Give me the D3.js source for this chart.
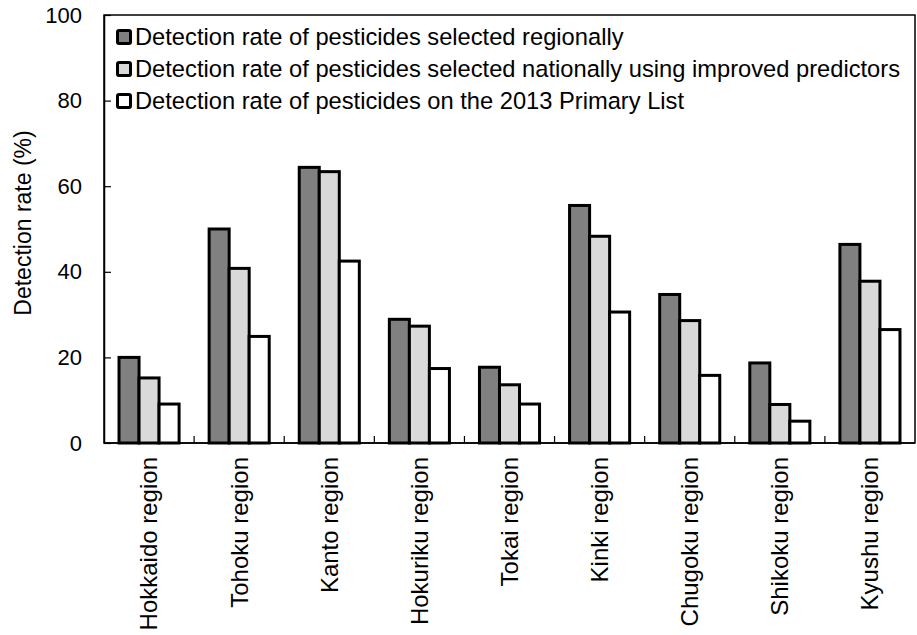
<!DOCTYPE html>
<html><head><meta charset="utf-8">
<script src="https://cdn.jsdelivr.net/npm/d3@7"></script>
<style>body{margin:0;background:#fff}svg{display:block}text{font-family:"Liberation Sans",Arial,sans-serif;fill:#000}</style>
</head><body>
<script>
const categories = ["Hokkaido region","Tohoku region","Kanto region","Hokuriku region","Tokai region","Kinki region","Chugoku region","Shikoku region","Kyushu region"];
const seriesNames = ["Detection rate of pesticides selected regionally","Detection rate of pesticides selected nationally using improved predictors","Detection rate of pesticides on the 2013 Primary List"];
const regional = [20.0, 50.0, 64.4, 28.9, 17.7, 55.5, 34.7, 18.7, 46.4];
const national = [15.2, 40.8, 63.4, 27.3, 13.6, 48.3, 28.6, 9.0, 37.8];
const primary  = [9.1, 24.9, 42.5, 17.4, 9.1, 30.6, 15.8, 5.1, 26.5];
const yTicks = [0, 20, 40, 60, 80, 100];
const colors = ["#808080", "#d9d9d9", "#ffffff"];
const series = [regional, national, primary];

const W = 917, H = 635;
const m = {l:104, r:2, t:15, b:192};
const svg = d3.select("body").append("svg").attr("width", W).attr("height", H);
const x0 = d3.scaleBand().domain(categories).range([m.l, W - m.r]).padding(0);
const x1 = d3.scaleBand().domain([0,1,2]).range([x0.bandwidth()/6, x0.bandwidth()*5/6]).padding(0);
const y = d3.scaleLinear().domain([0, 100]).range([H - m.b, m.t]);

// frame
svg.append("rect").attr("x", m.l).attr("y", m.t).attr("width", W - m.r - m.l).attr("height", H - m.b - m.t)
  .attr("fill", "none").attr("stroke", "#000").attr("stroke-width", 1.5);

// bars
const g = svg.append("g");
categories.forEach((c, i) => {
  series.forEach((s, j) => {
    g.append("rect")
      .attr("x", x0(c) + x1(j)).attr("y", y(s[i]))
      .attr("width", x1.bandwidth()).attr("height", y(0) - y(s[i]))
      .attr("fill", colors[j]).attr("stroke", "#000").attr("stroke-width", 3);
  });
});

// y axis
const yAxis = svg.append("g").attr("transform", `translate(${m.l},0)`)
  .call(d3.axisLeft(y).tickValues(yTicks).tickSizeInner(-7).tickSizeOuter(0).tickPadding(22));
yAxis.select(".domain").attr("stroke-width", 1.5);
yAxis.selectAll(".tick line").attr("stroke-width", 1.2);
yAxis.selectAll("text").attr("font-size", 22).attr("font-family", "Liberation Sans, Arial, sans-serif").attr("fill", "#000");

// x axis: ticks at category boundaries
const xAxisG = svg.append("g").attr("transform", `translate(0,${y(0)})`);
xAxisG.append("line").attr("x1", m.l).attr("x2", W - m.r).attr("stroke", "#000").attr("stroke-width", 1.5);
categories.slice(1).forEach(c => {
  xAxisG.append("line").attr("x1", x0(c)).attr("x2", x0(c)).attr("y1", 0).attr("y2", -7).attr("stroke", "#000").attr("stroke-width", 1.2);
});
categories.forEach(c => {
  xAxisG.append("text")
    .attr("transform", `translate(${x0(c) + x0.bandwidth()/2},14) rotate(-90)`)
    .attr("text-anchor", "end").attr("dy", "0.35em")
    .attr("font-size", 24).text(c);
});

// y title
svg.append("text").attr("transform", `translate(23,${(y(0)+y(100))/2 - 6}) rotate(-90)`)
  .attr("text-anchor", "middle").attr("dy", "0.35em").attr("font-size", 23).text("Detection rate (%)");

// legend
const leg = svg.append("g");
seriesNames.forEach((n, j) => {
  const cy = 37 + j * 32;
  leg.append("rect").attr("x", 117.5).attr("y", cy - 6.5).attr("width", 13).attr("height", 13)
    .attr("fill", colors[j]).attr("stroke", "#000").attr("stroke-width", 3).attr("rx", 1.5);
  leg.append("text").attr("x", 135).attr("y", cy).attr("dy", "0.35em").attr("font-size", 23.7).text(n);
});
</script>
</body></html>
